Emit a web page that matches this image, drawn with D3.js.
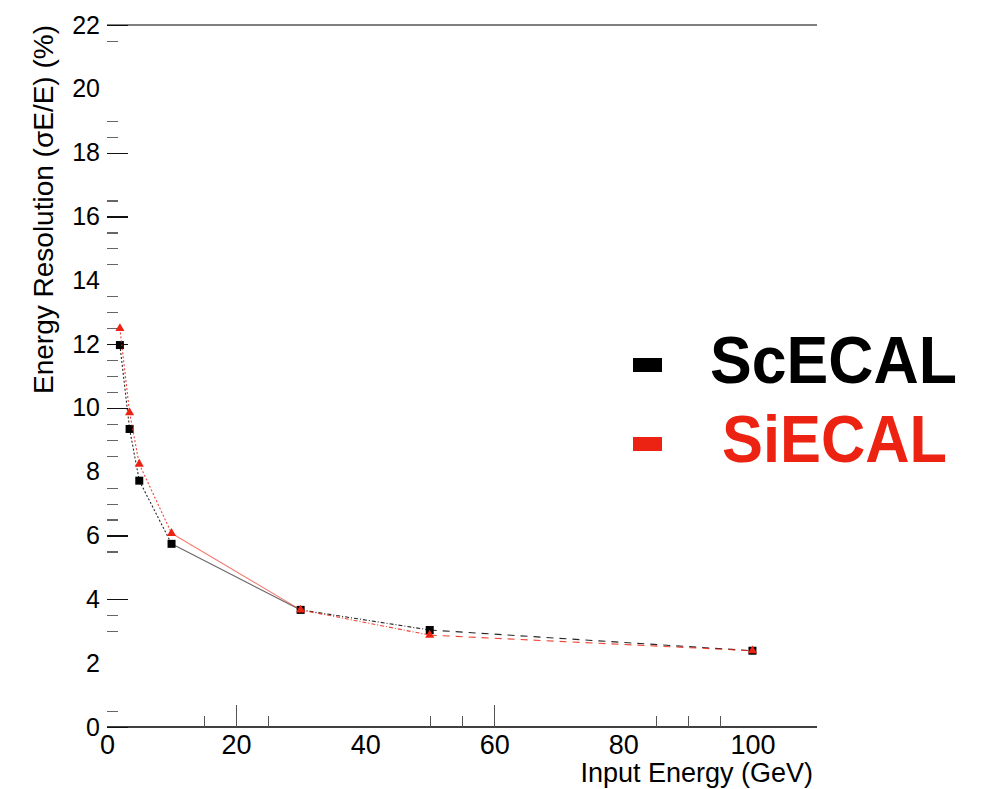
<!DOCTYPE html>
<html lang="en">
<meta charset="utf-8">
<style type="text/css">
  body { margin: 0; background: #fff; }
  svg { display: block; }
  text { font-family: "Liberation Sans", Arial, Helvetica, sans-serif; }
  .tick line { shape-rendering: crispEdges; }
</style>
<body>
<script src="https://d3js.org/d3.v7.min.js"></script>
<script>
// data
var energies  = [2, 3.5, 5, 10, 30, 50, 100];
var scecal    = [11.97, 9.34, 7.72, 5.74, 3.67, 3.04, 2.39];
var siecal    = [12.49, 9.85, 8.24, 6.07, 3.67, 2.88, 2.39];
var seriesNames = ["ScECAL", "SiECAL"];

var xLabels      = [0, 20, 40, 60, 80, 100];
var xMajorTicks  = [20, 60];
var xMinorTicks  = [15, 25, 50, 55, 85, 90, 95];
var yLabels      = [0, 2, 4, 6, 8, 10, 12, 14, 16, 18, 20, 22];
var yMajorTicks  = [0, 4, 6, 10, 12, 16, 18, 22];
var yMinorTicks  = [0.5, 3, 3.5, 5.5, 6.5, 7, 7.5, 8.5, 9, 9.5, 10.5, 11, 11.5,
                    12.5, 13, 13.5, 14.5, 15, 15.5, 16.5, 18.5, 19, 21.5];

// per-segment line style (ROOT draws each piece differently)
var segDash = ["2,2", "2,2", "2,2", null, "4,2,1,2", "7,6"];

var width = 981, height = 789;
var red = "#ec2312";

var svg = d3.select("body").append("svg")
    .attr("width", width)
    .attr("height", height);

var x = d3.scaleLinear().domain([0, 110]).range([107, 817]);
var y = d3.scaleLinear().domain([0, 22]).range([727, 25]);

// frame lines (bottom + top, no left line visible)
svg.append("line")
    .attr("x1", x(0)).attr("x2", x(110)).attr("y1", y(0)).attr("y2", y(0))
    .attr("stroke", "#000").attr("stroke-width", 1.5);
svg.append("line")
    .attr("x1", x(0)).attr("x2", x(110)).attr("y1", y(22)).attr("y2", y(22))
    .attr("stroke", "#000").attr("stroke-width", 1.2);

function tickAxis(axis, g, color) {
    g.call(axis);
    g.select(".domain").remove();
    g.selectAll("text").remove();
    g.selectAll(".tick line").attr("stroke", color).attr("stroke-width", 1.2);
}
// x ticks pointing up
tickAxis(d3.axisTop(x).tickValues(xMajorTicks).tickSize(22),
    svg.append("g").attr("transform", "translate(0," + y(0) + ")"), "#555");
tickAxis(d3.axisTop(x).tickValues(xMinorTicks).tickSize(11),
    svg.append("g").attr("transform", "translate(0," + y(0) + ")"), "#555");

// y ticks pointing right
tickAxis(d3.axisRight(y).tickValues(yMajorTicks).tickSize(21),
    svg.append("g").attr("transform", "translate(" + x(0) + ",0)"), "#111");
tickAxis(d3.axisRight(y).tickValues(yMinorTicks).tickSize(11),
    svg.append("g").attr("transform", "translate(" + x(0) + ",0)"), "#666");

// labels
var xl = svg.append("g")
    .attr("transform", "translate(0," + y(0) + ")")
    .call(d3.axisBottom(x).tickValues(xLabels).tickSize(0).tickPadding(8));
xl.select(".domain").remove();
xl.selectAll("text").attr("font-size", 27).attr("fill", "#000")
    .style("font-family", "'Liberation Sans', Arial, sans-serif");

var yl = svg.append("g")
    .attr("transform", "translate(" + x(0) + ",0)")
    .call(d3.axisLeft(y).tickValues(yLabels).tickSize(0).tickPadding(7));
yl.select(".domain").remove();
yl.selectAll("text").attr("font-size", 25).attr("fill", "#000")
    .style("font-family", "'Liberation Sans', Arial, sans-serif");

svg.append("text")
    .attr("x", 813).attr("y", 782)
    .attr("text-anchor", "end")
    .attr("font-size", 27)
    .text("Input Energy (GeV)");

svg.append("text")
    .attr("transform", "translate(53,25) rotate(-90)")
    .attr("text-anchor", "end")
    .attr("font-size", 28)
    .text("Energy Resolution (\u03c3E/E) (%)");

// curves
function drawSeries(vals, color, marker) {
    var pts = energies.map(function (e, i) { return [e, vals[i]]; });
    var segs = d3.pairs(pts);
    svg.append("g").selectAll("line")
        .data(segs)
        .join("line")
        .attr("x1", function (d) { return x(d[0][0]); })
        .attr("y1", function (d) { return y(d[0][1]); })
        .attr("x2", function (d) { return x(d[1][0]); })
        .attr("y2", function (d) { return y(d[1][1]); })
        .attr("stroke", color)
        .attr("stroke-opacity", function (d, i) { return segDash[i] === null ? 0.6 : 0.85; })
        .attr("stroke-width", 1.1)
        .attr("stroke-dasharray", function (d, i) { return segDash[i]; });

    svg.append("g").selectAll("path")
        .data(pts)
        .join("path")
        .attr("transform", function (d) { return "translate(" + x(d[0]) + "," + y(d[1]) + ")"; })
        .attr("d", d3.symbol().type(marker).size(marker === d3.symbolSquare ? 64 : 36))
        .attr("fill", color);
}
drawSeries(scecal, "#000", d3.symbolSquare);
drawSeries(siecal, red, d3.symbolTriangle);

// legend
var legendColors = ["#000", red];
var legendY = [383, 462];
var legendX = [710, 722];
var legendW = [247, 225];
seriesNames.forEach(function (name, i) {
    svg.append("rect")
        .attr("x", 633).attr("y", legendY[i] - 25)
        .attr("width", 29).attr("height", 14)
        .attr("fill", legendColors[i]);
    svg.append("text")
        .attr("x", legendX[i]).attr("y", legendY[i])
        .attr("font-size", 66)
        .attr("font-weight", "bold")
        .attr("textLength", legendW[i])
        .attr("lengthAdjust", "spacingAndGlyphs")
        .attr("fill", legendColors[i])
        .text(name);
});
</script>
</body>
</html>
